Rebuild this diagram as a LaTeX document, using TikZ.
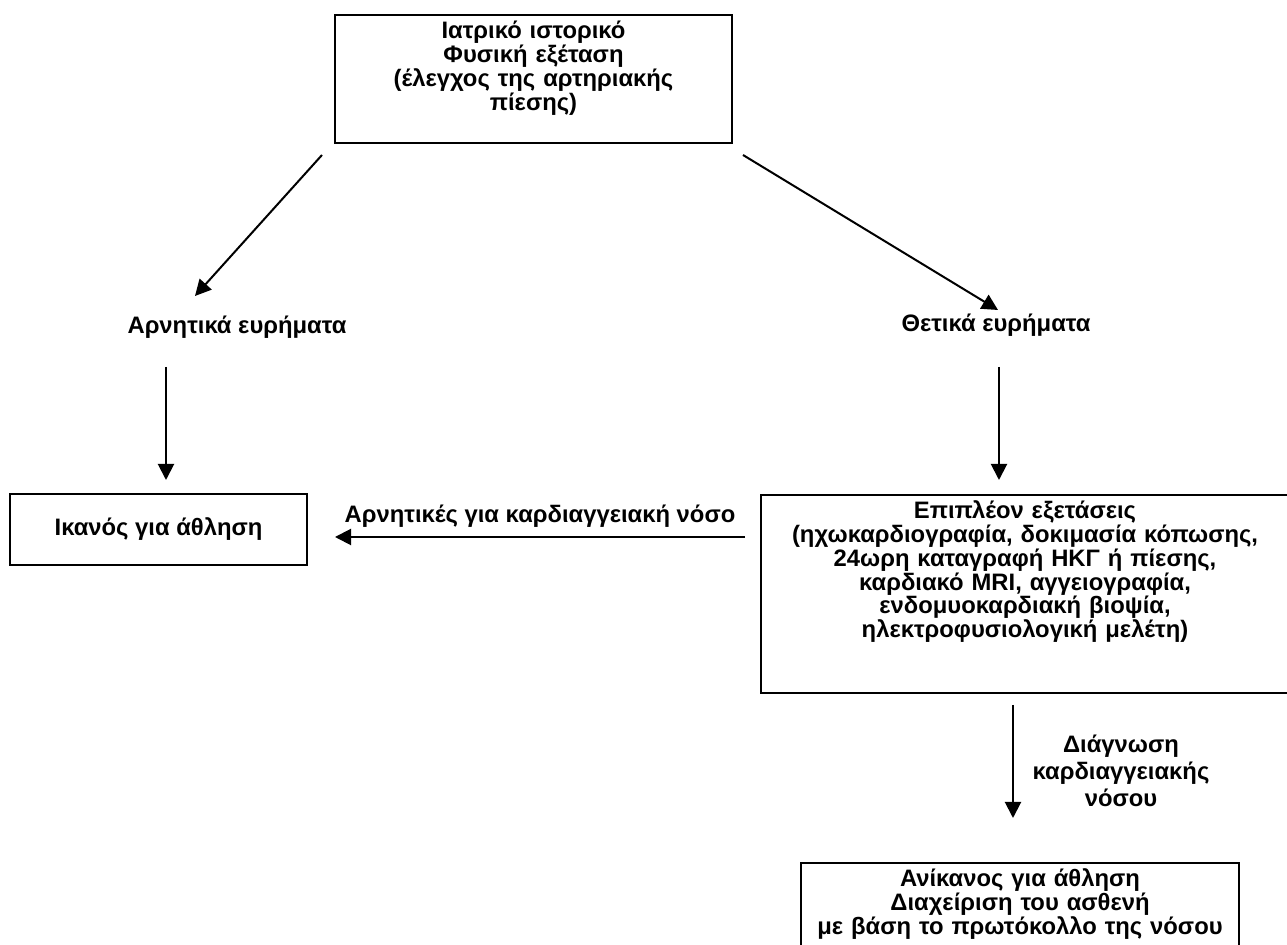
\documentclass[tikz,border=0pt]{standalone}
\usepackage{fontspec}
\setmainfont{Liberation Sans}
\usetikzlibrary{arrows.meta}

\tikzset{
    txt/.style={align=center, font=\bfseries\fontsize{11.9pt}{11.9pt}\selectfont},
    box/.style={txt, draw, line width=0.8pt, inner xsep=4pt, inner ysep=3.5pt},
    topbox/.style={box, anchor=north, text height=8.5pt},
    arr/.style={-{Triangle[length=8pt,width=8pt]}, line width=1pt}
}

\begin{document}
\begin{tikzpicture}[x=0.5pt, y=-0.5pt]
        \useasboundingbox (0, 0) rectangle (1287, 945);
        \clip (0, 0) rectangle (1287, 945);
        \begin{scope}
            \node[topbox, text width=190.5pt, text depth=48.5pt] (hist) at (533.5, 14) {
                Ιατρικό ιστορικό\\
                Φυσική εξέταση\\
                (έλεγχος της αρτηριακής\\
                πίεσης)
            };
            \node[txt] (neg) at (237, 327) {Αρνητικά ευρήματα};
            \node[txt] (pos) at (996, 325) {Θετικά ευρήματα};
            \node[box, minimum width=148.5pt, minimum height=35.5pt] (fit) at (158.5, 529.5) {Ικανός για άθληση};
            \node[txt] (negcvd) at (540, 516) {Αρνητικές για καρδιαγγειακή νόσο};
            \node[topbox, text width=256pt, text depth=83.5pt] (tests) at (1025, 494) {
                Επιπλέον εξετάσεις\\
                (ηχωκαρδιογραφία, δοκιμασία κόπωσης,\\
                24ωρη καταγραφή ΗΚΓ ή πίεσης,\\
                καρδιακό MRI, αγγειογραφία,\\
                ενδομυοκαρδιακή βιοψία,\\
                ηλεκτροφυσιολογική μελέτη)
            };
            \node[txt, font=\bfseries\fontsize{11.9pt}{13.5pt}\selectfont] (diag) at (1121, 771) {
                Διάγνωση\\
                καρδιαγγειακής\\
                νόσου
            };
            \node[topbox, text width=211pt, text depth=50pt] (unfit) at (1020, 862) {
                Ανίκανος για άθληση\\
                Διαχείριση του ασθενή\\
                με βάση το πρωτόκολλο της νόσου
            };
        \end{scope}
        \begin{scope}
            \coordinate (hist-l) at (322, 155);
            \coordinate (neg-t) at (195, 296);
            \coordinate (hist-r) at (743, 155);
            \coordinate (pos-t) at (998, 310);
            \coordinate (neg-b) at (166, 367);
            \coordinate (fit-t) at (166, 480);
            \coordinate (pos-b) at (999, 367);
            \coordinate (tests-t) at (999, 480);
            \coordinate (tests-l) at (745, 537);
            \coordinate (fit-r) at (335, 537);
            \coordinate (tests-b) at (1013, 705);
            \coordinate (unfit-t) at (1013, 818);
        \end{scope}
        \begin{scope}
            \path [arr] (hist-l) edge (neg-t);
            \path [arr] (hist-r) edge (pos-t);
            \path [arr] (neg-b) edge (fit-t);
            \path [arr] (pos-b) edge (tests-t);
            \path [arr] (tests-l) edge (fit-r);
            \path [arr] (tests-b) edge (unfit-t);
        \end{scope}
    \end{tikzpicture}
\end{document}
